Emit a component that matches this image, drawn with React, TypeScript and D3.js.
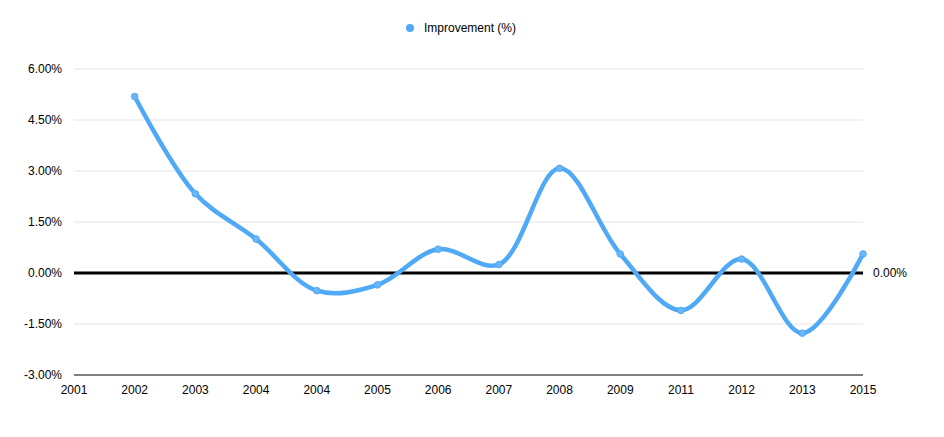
import React from 'react';
import * as d3 from 'd3';

const years = ['2001', '2002', '2003', '2004', '2004', '2005', '2006', '2007', '2008', '2009', '2011', '2012', '2013', '2015'];
// values start at the second category (2002)
const improvement = [5.19, 2.33, 1.0, -0.52, -0.35, 0.7, 0.25, 3.08, 0.56, -1.1, 0.41, -1.77, 0.56];
const yTicks = [-3, -1.5, 0, 1.5, 3, 4.5, 6];

const W = 944;
const H = 437;
const LINE = '#4fa9f6';

export default function App() {
  const margin = { top: 69, right: 81, bottom: 62, left: 74 };

  const x = d3.scalePoint<number>()
    .domain(years.map((_, i) => i))
    .range([margin.left, W - margin.right]);

  const y = d3.scaleLinear()
    .domain([-3, 6])
    .range([H - margin.bottom, margin.top]);

  const pts = improvement.map((v, i) => ({ i: i + 1, v }));

  const line = d3.line<{ i: number; v: number }>()
    .x(d => x(d.i)!)
    .y(d => y(d.v))
    .curve(d3.curveCatmullRom.alpha(0.5));

  const fmt = (v: number) => v.toFixed(2) + '%';
  const x0 = margin.left;
  const x1 = W - margin.right;

  return (
    <div style={{ position: 'fixed', left: 0, top: 0 }}>
      <svg width={W} height={H} style={{ display: 'block', background: '#fff' }}
        fontFamily="'Liberation Sans', Arial, Helvetica, sans-serif" fontSize={12}>
        {/* legend */}
        <circle cx={410} cy={28} r={4} fill={LINE} />
        <text x={424} y={32} fill="#000">Improvement (%)</text>

        {/* grid */}
        {yTicks.map(t => (
          <g key={t}>
            {t !== 0 && t !== -3 && (
              <line x1={x0} x2={x1} y1={y(t)} y2={y(t)} stroke="#e4e4e4" strokeWidth={1} />
            )}
            <text x={62} y={y(t)} dy="0.35em" textAnchor="end" fill="#000">{fmt(t)}</text>
          </g>
        ))}

        {/* bottom axis */}
        <line x1={x0} x2={x1} y1={y(-3)} y2={y(-3)} stroke="#000" strokeWidth={1.2} />
        {years.map((yr, i) => (
          <text key={i} x={x(i)!} y={y(-3) + 19} textAnchor="middle" fill="#000">{yr}</text>
        ))}

        {/* zero line */}
        <line x1={x0} x2={x1} y1={y(0)} y2={y(0)} stroke="#000" strokeWidth={3} />
        <text x={873} y={y(0)} dy="0.35em" fill="#000">{fmt(0)}</text>

        {/* series */}
        <path d={line(pts) ?? ''} fill="none" stroke={LINE} strokeWidth={4.5}
          strokeLinecap="round" strokeLinejoin="round" />
        {pts.map(p => (
          <circle key={p.i} cx={x(p.i)!} cy={y(p.v)} r={3.3} fill="#6ab6f7" stroke={LINE} strokeWidth={1} />
        ))}
      </svg>
    </div>
  );
}
